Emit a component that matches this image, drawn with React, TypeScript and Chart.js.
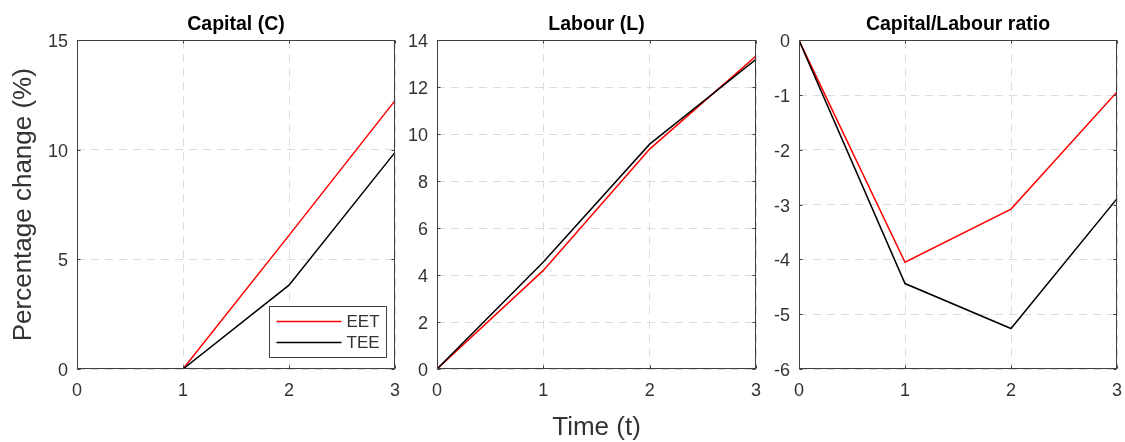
import React, { useEffect, useRef } from "react";
import { Chart, registerables } from "chart.js";

Chart.register(...registerables);

// ---------- data ----------
const timePoints = [0, 1, 2, 3];
const seriesNames = ["EET", "TEE"];
const seriesColors = ["#ff0000", "#000000"];
const capitalEET = [0, 0, 6.1, 12.25];
const capitalTEE = [0, 0, 3.83, 9.89];
const labourEET = [0, 4.2, 9.37, 13.33];
const labourTEE = [0, 4.56, 9.58, 13.19];
const ratioEET = [0, -4.05, -3.08, -0.94];
const ratioTEE = [0, -4.44, -5.26, -2.89];
const panelTitles = ["Capital (C)", "Labour (L)", "Capital/Labour ratio"];
const yMins = [0, 0, -6];
const yMaxs = [15, 14, 0];
const ySteps = [5, 2, 1];
const xMin = 0;
const xMax = 3;
const xStep = 1;
const yAxisLabel = "Percentage change (%)";
const xAxisLabel = "Time (t)";

const seriesEET = [capitalEET, labourEET, ratioEET];
const seriesTEE = [capitalTEE, labourTEE, ratioTEE];

// ---------- layout (canvas placement) ----------
const panelLayout = [
  { left: 0, width: 405, yWidth: 77, padRight: 10 },
  { left: 405, width: 365, yWidth: 32, padRight: 14 },
  { left: 770, width: 355, yWidth: 29, padRight: 8 },
];
const CANVAS_H = 442;
const X_AXIS_H = 73;

const FONT = "'Liberation Sans', Arial, Helvetica, sans-serif";
const AXIS_COLOR = "#404040";
const TEXT_COLOR = "#333333";
const GRID_COLOR = "#dcdcdc";
const LINE_W = 1.5;

const boxPlugin = {
  id: "matlabBox",
  afterDatasetsDraw(chart: any) {
    const { ctx, chartArea: a, scales } = chart;
    const L = Math.floor(a.left) + 0.5;
    const R = Math.floor(a.right) - 0.5;
    const T = Math.floor(a.top) + 0.5;
    const B = Math.floor(a.bottom) - 0.5;
    ctx.save();
    ctx.strokeStyle = AXIS_COLOR;
    ctx.lineWidth = 1;
    ctx.strokeRect(L, T, R - L, B - T);
    const tl = 3;
    ctx.beginPath();
    scales.x.ticks.forEach((t: any) => {
      const px = Math.round(scales.x.getPixelForValue(t.value)) + 0.5;
      ctx.moveTo(px, B);
      ctx.lineTo(px, B - tl);
      ctx.moveTo(px, T);
      ctx.lineTo(px, T + tl);
    });
    scales.y.ticks.forEach((t: any) => {
      const py = Math.round(scales.y.getPixelForValue(t.value)) + 0.5;
      ctx.moveTo(L, py);
      ctx.lineTo(L + tl, py);
      ctx.moveTo(R, py);
      ctx.lineTo(R - tl, py);
    });
    ctx.stroke();
    ctx.restore();
  },
};

const legendPlugin = {
  id: "matlabLegend",
  afterDatasetsDraw(chart: any) {
    const { ctx, chartArea: a } = chart;
    const w = 117;
    const h = 51;
    const x1 = Math.floor(a.right - 9 - w) + 0.5;
    const y1 = Math.floor(a.bottom - 12 - h) + 0.5;
    ctx.save();
    ctx.fillStyle = "#ffffff";
    ctx.fillRect(x1, y1, w, h);
    ctx.strokeStyle = AXIS_COLOR;
    ctx.lineWidth = 1;
    ctx.strokeRect(x1, y1, w, h);
    ctx.font = `17px ${FONT}`;
    ctx.textBaseline = "middle";
    ctx.textAlign = "left";
    seriesNames.forEach((name, i) => {
      const yy = y1 + 15 + i * 21;
      ctx.strokeStyle = seriesColors[i];
      ctx.lineWidth = LINE_W;
      ctx.beginPath();
      ctx.moveTo(x1 + 7, yy);
      ctx.lineTo(x1 + 72, yy);
      ctx.stroke();
      ctx.fillStyle = TEXT_COLOR;
      ctx.fillText(name, x1 + 77, yy + 0.5);
    });
    ctx.restore();
  },
};

function makeConfig(idx: number): any {
  const lay = panelLayout[idx];
  const mk = (arr: number[]) => timePoints.map((t, i) => ({ x: t, y: arr[i] }));
  return {
    type: "line",
    data: {
      datasets: [
        {
          label: seriesNames[0],
          data: mk(seriesEET[idx]),
          borderColor: seriesColors[0],
          borderWidth: LINE_W,
          pointRadius: 0,
          tension: 0,
          fill: false,
          order: 1,
        },
        {
          label: seriesNames[1],
          data: mk(seriesTEE[idx]),
          borderColor: seriesColors[1],
          borderWidth: LINE_W,
          pointRadius: 0,
          tension: 0,
          fill: false,
          order: 0,
        },
      ],
    },
    options: {
      responsive: false,
      maintainAspectRatio: false,
      animation: false,
      events: [],
      layout: { padding: { left: 0, right: lay.padRight, top: 0, bottom: 0 } },
      plugins: {
        legend: { display: false },
        tooltip: { enabled: false },
        title: {
          display: true,
          text: panelTitles[idx],
          color: "#000000",
          font: { size: 19.5, weight: "bold", family: FONT },
          padding: { top: 13, bottom: 4 },
          fullSize: false,
        },
      },
      scales: {
        x: {
          type: "linear",
          min: xMin,
          max: xMax,
          ticks: {
            stepSize: xStep,
            padding: 11,
            color: TEXT_COLOR,
            font: { size: 18, family: FONT },
          },
          grid: { color: GRID_COLOR, lineWidth: 1, drawTicks: false },
          border: { display: false, dash: [8, 6] },
          title:
            idx === 1
              ? {
                  display: true,
                  text: xAxisLabel,
                  color: TEXT_COLOR,
                  font: { size: 26, lineHeight: 1, family: FONT },
                  padding: { top: 0, bottom: 1 },
                }
              : { display: false },
          afterFit: (s: any) => {
            s.height = X_AXIS_H;
            s.paddingLeft = 0;
            s.paddingRight = 0;
          },
        },
        y: {
          type: "linear",
          min: yMins[idx],
          max: yMaxs[idx],
          ticks: {
            stepSize: ySteps[idx],
            padding: 9,
            labelOffset: 2,
            color: TEXT_COLOR,
            font: { size: 18, family: FONT },
          },
          grid: { color: GRID_COLOR, lineWidth: 1, drawTicks: false },
          border: { display: false, dash: [8, 6] },
          title:
            idx === 0
              ? {
                  display: true,
                  text: yAxisLabel,
                  color: TEXT_COLOR,
                  font: { size: 26, lineHeight: 1, family: FONT },
                  padding: { top: 11, bottom: 0 },
                }
              : { display: false },
          afterFit: (s: any) => {
            s.width = lay.yWidth;
            s.paddingTop = 0;
            s.paddingBottom = 0;
          },
        },
      },
    },
    plugins: idx === 0 ? [boxPlugin, legendPlugin] : [boxPlugin],
  };
}

export default function App() {
  const refs = [useRef<HTMLCanvasElement>(null), useRef<HTMLCanvasElement>(null), useRef<HTMLCanvasElement>(null)];

  useEffect(() => {
    document.body.style.margin = "0";
    Chart.defaults.font.family = FONT;
    const charts: Chart[] = [];
    refs.forEach((r, i) => {
      if (r.current) charts.push(new Chart(r.current, makeConfig(i)));
    });
    return () => charts.forEach((c) => c.destroy());
  }, []);

  return (
    <div style={{ position: "relative", width: 1125, height: CANVAS_H, background: "#ffffff" }}>
      {panelLayout.map((p, i) => (
        <canvas
          key={i}
          ref={refs[i]}
          width={p.width}
          height={CANVAS_H}
          style={{ position: "absolute", left: p.left, top: 0, width: p.width, height: CANVAS_H }}
        />
      ))}
    </div>
  );
}
